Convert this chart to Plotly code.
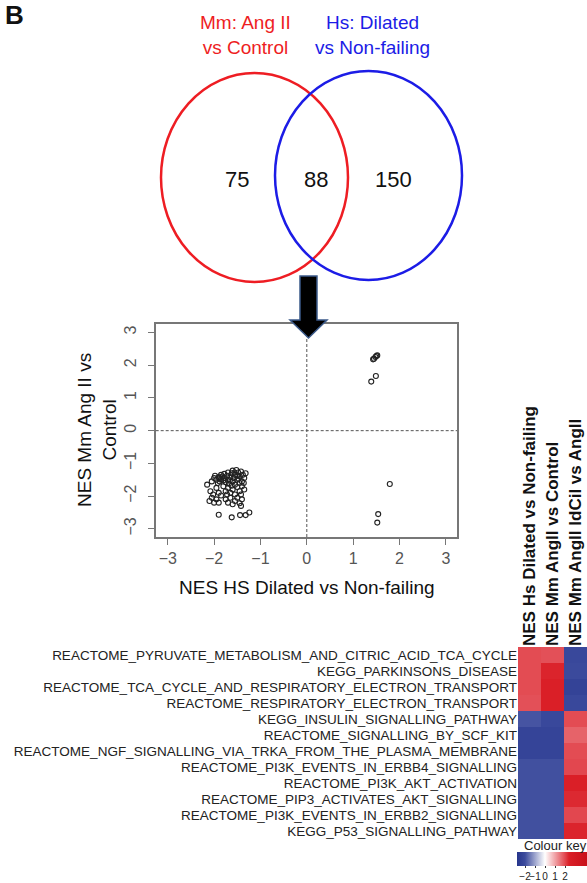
import plotly.graph_objects as go

W, H = 587, 883
def px(x): return x / W
def py(y): return 1 - y / H

FONT = "Liberation Sans, Arial, sans-serif"

# ---------------- data ----------------
venn_sets = ["Mm: Ang II<br>vs Control", "Hs: Dilated<br>vs Non-failing"]
venn_counts = [75, 88, 150]   # only Mm, shared, only Hs

nes_hs = [-2.0, -1.95, -1.9, -1.88, -1.85, -1.82, -1.8, -1.78, -1.75, -1.72, -1.7, -1.68,
          -1.65, -1.62, -1.6, -1.58, -1.55, -1.52, -1.5, -1.48, -1.45, -1.42, -1.4, -1.38,
          -1.35, -1.32, -1.45, -1.55, -1.92, -2.05, -1.98, -1.85, -1.7, -1.6, -1.5,
          -1.78, -1.66, -1.56, -1.47, -1.88, -1.36,
          -2.15, -2.08, -2.02, -1.95, -1.9, -1.8, -1.75, -1.7, -1.65, -1.6, -1.55, -1.5,
          -1.45, -1.4, -1.35, -1.42, -1.62, -1.85, -1.72,
          -2.1, -2.05, -2.0, -1.95, -1.75, -1.7, -1.65, -1.6, -1.55, -1.5, -1.45, -1.4,
          -1.42, -1.9,
          -1.9, -1.62, -1.44, -1.32, -1.24,
          1.45, 1.5, 1.48, 1.52, 1.43, 1.39, 1.49,
          1.79, 1.54, 1.52]
nes_mm = [-1.45, -1.5, -1.42, -1.55, -1.48, -1.4, -1.52, -1.45, -1.58, -1.38, -1.5, -1.62,
          -1.42, -1.3, -1.55, -1.45, -1.35, -1.2, -1.5, -1.28, -1.4, -1.25, -1.55, -1.35,
          -1.45, -1.3, -1.6, -1.65, -1.6, -1.55, -1.38, -1.35, -1.28, -1.22, -1.38,
          -1.32, -1.52, -1.28, -1.47, -1.45, -1.6,
          -1.65, -1.85, -1.95, -1.75, -1.9, -1.7, -1.85, -1.75, -1.9, -1.8, -1.95, -1.72,
          -1.85, -1.7, -1.8, -1.95, -1.68, -1.98, -1.95,
          -2.15, -2.05, -2.2, -2.1, -2.1, -2.2, -2.05, -2.25, -2.15, -2.05, -2.22, -2.1,
          -2.3, -2.2,
          -2.57, -2.65, -2.58, -2.58, -2.5,
          2.2, 2.28, 2.25, 2.3, 2.18, 1.5, 1.67,
          -1.63, -2.55, -2.81]

pathways = ["REACTOME_PYRUVATE_METABOLISM_AND_CITRIC_ACID_TCA_CYCLE",
            "KEGG_PARKINSONS_DISEASE",
            "REACTOME_TCA_CYCLE_AND_RESPIRATORY_ELECTRON_TRANSPORT",
            "REACTOME_RESPIRATORY_ELECTRON_TRANSPORT",
            "KEGG_INSULIN_SIGNALLING_PATHWAY",
            "REACTOME_SIGNALLING_BY_SCF_KIT",
            "REACTOME_NGF_SIGNALLING_VIA_TRKA_FROM_THE_PLASMA_MEMBRANE",
            "REACTOME_PI3K_EVENTS_IN_ERBB4_SIGNALLING",
            "REACTOME_PI3K_AKT_ACTIVATION",
            "REACTOME_PIP3_ACTIVATES_AKT_SIGNALLING",
            "REACTOME_PI3K_EVENTS_IN_ERBB2_SIGNALLING",
            "KEGG_P53_SIGNALLING_PATHWAY"]
contrasts = ["NES Hs Dilated vs Non-failing", "NES Mm AngII vs Control", "NES Mm AngII IdCil vs AngII"]
nes_hs_dil = [1.95, 1.95, 1.95, 1.9, -1.9, -2.25, -2.25, -1.95, -1.95, -1.95, -1.95, -1.95]
nes_mm_ang = [1.9, 2.35, 2.4, 2.4, -2.1, -2.25, -2.25, -1.95, -1.95, -1.95, -1.95, -1.95]
nes_mm_idc = [-2.1, -2.05, -2.3, -2.1, 1.95, 1.7, 1.95, 2.0, 2.4, 2.3, 2.0, 2.35]
key_ticks = [-2, -1, 0, 1, 2]

# ---------------- figure ----------------
fig = go.Figure()

fig.add_trace(go.Scatter(
    x=nes_hs, y=nes_mm, mode="markers", xaxis="x", yaxis="y", showlegend=False,
    marker=dict(symbol="circle-open", size=5, color="#222222", line=dict(width=1.1)),
    hoverinfo="skip"))

zmin, zmax = -2.8, 4.2
def f(v): return (v - zmin) / (zmax - zmin)
cscale = [[0, "#26358C"], [f(-2), "#3C4B9D"], [f(0), "#FFFFFF"],
          [f(2), "#E2474F"], [f(2.4), "#DA1F27"], [1, "#C8101A"]]

z = [[a, b, c] for a, b, c in zip(nes_hs_dil, nes_mm_ang, nes_mm_idc)]
fig.add_trace(go.Heatmap(
    z=z, x=[0, 1, 2], y=list(range(len(pathways))), xaxis="x2", yaxis="y2",
    zmin=zmin, zmax=zmax, colorscale=cscale, hoverinfo="skip",
    colorbar=dict(orientation="h", x=px(517), xanchor="left", y=py(852), yanchor="top",
                  len=70 / W, lenmode="fraction", thickness=14, xpad=0, ypad=0,
                  outlinewidth=0, tickvals=key_ticks, ticks="outside", ticklen=2,
                  tickangle=0, tickcolor="#333",
                  tickfont=dict(size=10, color="#222", family=FONT))))

shapes = [
    dict(type="circle", xref="paper", yref="paper", x0=px(161), x1=px(348), y0=py(282), y1=py(73),
         line=dict(color="#EE1D23", width=2.5)),
    dict(type="circle", xref="paper", yref="paper", x0=px(275), x1=px(462), y0=py(280), y1=py(71),
         line=dict(color="#1C1CE6", width=2.5)),
    dict(type="line", xref="x", yref="y domain", x0=0, x1=0, y0=0, y1=1,
         line=dict(color="#555", width=1, dash="3px,2px")),
    dict(type="line", xref="x domain", yref="y", x0=0, x1=1, y0=0, y1=0,
         line=dict(color="#555", width=1, dash="3px,2px")),
]
arrow_pts = [(300, 276), (317, 276), (317, 320), (327, 320), (308.5, 338), (290, 320), (300, 320)]
path = "M " + " L ".join(f"{px(a):.5f},{py(b):.5f}" for a, b in arrow_pts) + " Z"
shapes.append(dict(type="path", xref="paper", yref="paper", path=path, layer="above",
                   fillcolor="#000000", line=dict(color="#3B5A8A", width=1.5)))

def note(text, x, y, size, color="#111", angle=0):
    return dict(text=text, x=px(x), y=py(y), xref="paper", yref="paper", showarrow=False,
                xanchor="center", yanchor="middle", textangle=angle,
                font=dict(size=size, color=color, family=FONT))

ann = [note("<b>B</b>", 14, 15, 26),
       note(venn_sets[0], 245, 35, 19, "#EE1D23"),
       note(venn_sets[1], 372, 35, 19, "#1C1CE6")]
for cnt, xx in zip(venn_counts, [237, 316, 393]):
    ann.append(note(str(cnt), xx, 180, 22))
ann.append(note("NES Mm Ang II vs<br>Control", 97, 430, 19, angle=-90))
ann.append(note("NES HS Dilated vs Non-failing", 307, 587, 19))
ann.append(note("Colour key", 555, 845, 13, "#222"))

fig.update_layout(
    width=W, height=H, margin=dict(l=0, r=0, t=0, b=0),
    paper_bgcolor="white", plot_bgcolor="white",
    font=dict(family=FONT),
    shapes=shapes, annotations=ann,
    xaxis=dict(domain=[px(155.7), px(457)], range=[-3.26, 3.24], tickvals=[-3, -2, -1, 0, 1, 2, 3],
               ticks="outside", ticklen=6, tickcolor="#777", showline=True, mirror=True,
               linecolor="#777", linewidth=1.5, showgrid=False, zeroline=False, anchor="y",
               tickfont=dict(size=16, color="#555"), automargin=False),
    yaxis=dict(domain=[py(537), py(324)], range=[-3.25, 3.26], tickvals=[-3, -2, -1, 0, 1, 2, 3],
               ticks="outside", ticklen=6, tickcolor="#777", showline=True, mirror=True,
               linecolor="#777", linewidth=1.5, showgrid=False, zeroline=False, anchor="x",
               tickangle=-90, ticklabelstandoff=6,
               tickfont=dict(size=16, color="#555"), automargin=False),
    xaxis2=dict(domain=[px(518), 1.0], range=[-0.5, 2.5], side="top", anchor="y2",
                tickvals=[0, 1, 2], ticktext=[f"<b>{c}</b>" for c in contrasts], tickangle=-90,
                ticks="", showline=False, showgrid=False, zeroline=False,
                tickfont=dict(size=17, color="#111"), automargin=False),
    yaxis2=dict(domain=[py(839), py(647)], range=[11.5, -0.5], anchor="x2",
                tickvals=list(range(len(pathways))), ticktext=pathways, ticks="",
                showline=False, showgrid=False, zeroline=False,
                tickfont=dict(size=13.5, color="#222"), automargin=False),
)

fig.write_html("out.html", config={"displayModeBar": False},
               post_script="document.body.style.margin='0px';")
